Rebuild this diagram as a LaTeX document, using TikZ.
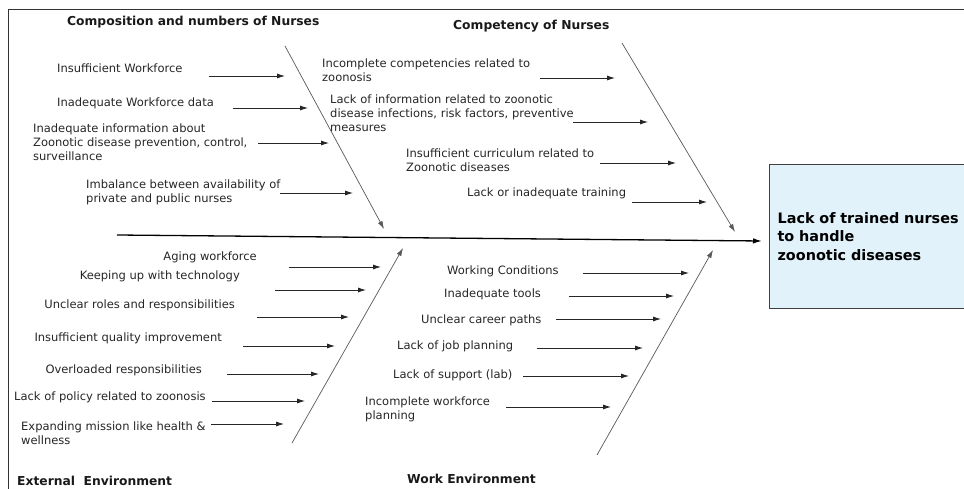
\documentclass[tikz,border=0pt]{standalone}
\usepackage{fontspec}
\setmainfont{DejaVu Sans}
\usetikzlibrary{arrows.meta}
\definecolor{boxfill}{HTML}{E1F2FA}
\definecolor{frame}{HTML}{333333}
\tikzset{
  lbl/.style={font=\fontsize{11.5}{13.8}\selectfont, inner sep=0pt, align=left, text=black!85},
  ttl/.style={font=\fontsize{12.3}{14}\selectfont\bfseries, inner sep=0pt, text=black!90},
  small/.style={draw=black!85, line width=0.8pt, -{Latex[length=8pt,width=5pt]}},
  bone/.style={draw=black!65, line width=0.7pt, -{Latex[length=8pt,width=5pt]}},
  spine/.style={draw=black, line width=1.3pt, -{Latex[length=9pt,width=5.5pt]}},
}
\begin{document}
\begin{tikzpicture}[x=1pt,y=-1pt]
\useasboundingbox (0,0) rectangle (964,489);
\fill[white] (0,0) rectangle (964,489);
% frame
\draw[frame, line width=1pt] (964,10) -- (8,10) -- (8,495);

% effect box
\node[draw=black!75, line width=1.2pt, fill=boxfill, anchor=north west, minimum height=144pt,
      text width=189pt, inner xsep=8pt, align=left,
      font=\fontsize{14.4}{18.5}\selectfont\bfseries] (effect) at (769,164)
  {Lack of trained nurses\\to handle\\zoonotic diseases};

% titles
\node[ttl, anchor=west] (t1) at (67,22) {Composition and numbers of Nurses};
\node[ttl, anchor=west] (t2) at (453,26) {Competency of Nurses};
\node[ttl, anchor=west] (t3) at (17,481) {External~ Environment};
\node[ttl, anchor=west] (t4) at (407,479) {Work Environment};

% spine and bones
\coordinate (sp0) at (117,235);
\coordinate (sp1) at (762,241);
\draw[spine] (sp0) -- (sp1);
\coordinate (b1s) at (285,46);  \coordinate (b1e) at (384,229);
\coordinate (b2s) at (622,43);  \coordinate (b2e) at (735,232);
\coordinate (b3s) at (292,443); \coordinate (b3e) at (403,248);
\coordinate (b4s) at (597,455); \coordinate (b4e) at (713,250);
\draw[bone] (b1s) -- (b1e);
\draw[bone] (b2s) -- (b2e);
\draw[bone] (b3s) -- (b3e);
\draw[bone] (b4s) -- (b4e);

% top-left causes
\node[lbl, anchor=west] (c11) at (57,68) {Insufficient Workforce};
\node[lbl, anchor=west] (c12) at (57,103) {Inadequate Workforce data};
\node[lbl, anchor=west] (c13) at (33,142) {Inadequate information about\\Zoonotic disease prevention, control,\\surveillance};
\node[lbl, anchor=west] (c14) at (86,192) {Imbalance between availability of\\private and public nurses};
\coordinate (a11s) at (209,76);  \coordinate (a11e) at (285,76);
\coordinate (a12s) at (233,108); \coordinate (a12e) at (308,108);
\coordinate (a13s) at (258,143); \coordinate (a13e) at (329,143);
\coordinate (a14s) at (280,193); \coordinate (a14e) at (353,193);
\foreach \i in {11,12,13,14} \draw[small] (a\i s) -- (a\i e);

% top-right causes
\node[lbl, anchor=west] (c21) at (322,70) {Incomplete competencies related to\\zoonosis};
\node[lbl, anchor=west] (c22) at (330,113) {Lack of information related to zoonotic\\disease infections, risk factors, preventive\\measures};
\node[lbl, anchor=west] (c23) at (406,160) {Insufficient curriculum related to\\Zoonotic diseases};
\node[lbl, anchor=west] (c24) at (467,193) {Lack or inadequate training};
\coordinate (a21s) at (540,78);  \coordinate (a21e) at (615,78);
\coordinate (a22s) at (573,122); \coordinate (a22e) at (648,122);
\coordinate (a23s) at (600,163); \coordinate (a23e) at (676,163);
\coordinate (a24s) at (632,202); \coordinate (a24e) at (707,202);
\foreach \i in {21,22,23,24} \draw[small] (a\i s) -- (a\i e);

% bottom-left causes
\node[lbl, anchor=east] (c31) at (257,257) {Aging workforce};
\node[lbl, anchor=east] (c32) at (240,276) {Keeping up with technology};
\node[lbl, anchor=east] (c33) at (235,305) {Unclear roles and responsibilities};
\node[lbl, anchor=east] (c34) at (222,338) {Insufficient quality improvement};
\node[lbl, anchor=east] (c35) at (202,370) {Overloaded responsibilities};
\node[lbl, anchor=west] (c36) at (14,397) {Lack of policy related to zoonosis};
\node[lbl, anchor=west] (c37) at (21,433) {Expanding mission like health \&\\wellness};
\coordinate (a31s) at (289,267); \coordinate (a31e) at (381,267);
\coordinate (a32s) at (275,290); \coordinate (a32e) at (366,290);
\coordinate (a33s) at (257,317); \coordinate (a33e) at (349,317);
\coordinate (a34s) at (243,346); \coordinate (a34e) at (335,346);
\coordinate (a35s) at (227,374); \coordinate (a35e) at (319,374);
\coordinate (a36s) at (212,401); \coordinate (a36e) at (305,401);
\coordinate (a37s) at (211,424); \coordinate (a37e) at (284,424);
\foreach \i in {31,32,33,34,35,36,37} \draw[small] (a\i s) -- (a\i e);

% bottom-right causes
\node[lbl, anchor=west] (c41) at (447,271) {Working Conditions};
\node[lbl, anchor=west] (c42) at (444,294) {Inadequate tools};
\node[lbl, anchor=west] (c43) at (421,320) {Unclear career paths};
\node[lbl, anchor=west] (c44) at (397,346) {Lack of job planning};
\node[lbl, anchor=west] (c45) at (393,375) {Lack of support (lab)};
\node[lbl, anchor=west] (c46) at (365,409) {Incomplete workforce\\planning};
\coordinate (a41s) at (583,273); \coordinate (a41e) at (689,273);
\coordinate (a42s) at (569,296); \coordinate (a42e) at (674,296);
\coordinate (a43s) at (556,319); \coordinate (a43e) at (661,319);
\coordinate (a44s) at (537,348); \coordinate (a44e) at (643,348);
\coordinate (a45s) at (523,376); \coordinate (a45e) at (629,376);
\coordinate (a46s) at (506,407); \coordinate (a46e) at (611,407);
\foreach \i in {41,42,43,44,45,46} \draw[small] (a\i s) -- (a\i e);
\end{tikzpicture}
\end{document}
